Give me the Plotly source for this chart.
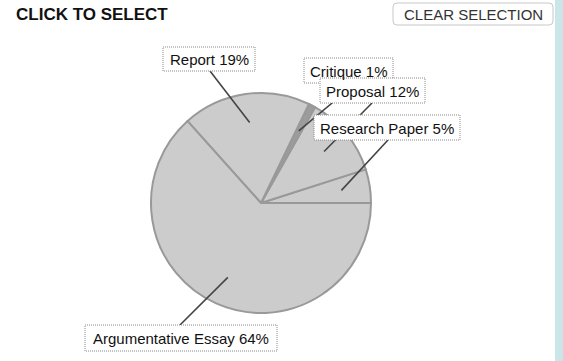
import math
import plotly.graph_objects as go

# Share of assignments by type (percent)
categories = ["Research Paper", "Proposal", "Critique", "Report", "Argumentative Essay"]
shares = [5, 12, 1, 19, 64]
slice_colors = ["#cccccc", "#cccccc", "#9c9c9c", "#cccccc", "#cccccc"]

W, H = 563, 361
CX, CY, R = 261, 203, 110          # pie centre and radius in page pixels
TIP_R = 0.74                       # where leader lines touch the slices

# Label boxes (x0, y0, x1, y1) and where each leader line meets its box
label_boxes = {
    "Research Paper": (314, 115, 460, 140),
    "Proposal": (320, 78, 425, 103),
    "Critique": (304, 58, 393, 83),
    "Report": (163, 47, 255, 71),
    "Argumentative Essay": (85, 325, 277, 351),
}
line_ends = {
    "Research Paper": (388, 140),
    "Proposal": (372, 103),
    "Critique": (356, 83),
    "Report": (210, 71),
    "Argumentative Essay": (180, 325),
}

total = sum(shares)
first_angle = shares[0] / total * 360

fig = go.Figure()

# Counterclockwise pie whose first slice starts at 3 o'clock
fig.add_trace(go.Pie(
    labels=categories,
    values=shares,
    sort=False,
    direction="counterclockwise",
    rotation=90 - first_angle,
    textinfo="none",
    hoverinfo="label+percent",
    marker=dict(colors=slice_colors, line=dict(color="#999999", width=2)),
    domain=dict(x=[(CX - R) / W, (CX + R) / W],
                y=[1 - (CY + R) / H, 1 - (CY - R) / H]),
    showlegend=False,
))

# Leader-line tips at the middle angle of each slice
cum = 0
tips = {}
for name, v in zip(categories, shares):
    mid = (cum + v / 2) / total * 2 * math.pi
    tips[name] = (CX + TIP_R * R * math.cos(mid), CY - TIP_R * R * math.sin(mid))
    cum += v

shapes = []
# side strip
shapes.append(dict(type="rect", xref="x", yref="y", x0=555, x1=564, y0=0, y1=H,
                   fillcolor="#c9e7e9", line=dict(width=0), layer="above"))
# leader lines
for name in categories:
    (x0, y0), (x1, y1) = tips[name], line_ends[name]
    shapes.append(dict(type="line", xref="x", yref="y", x0=x0, y0=y0, x1=x1, y1=y1,
                       line=dict(color="#444444", width=1.6), layer="above"))
# dotted label boxes
for name in ["Critique", "Proposal", "Research Paper", "Report", "Argumentative Essay"]:
    bx0, by0, bx1, by1 = label_boxes[name]
    shapes.append(dict(type="rect", xref="x", yref="y", x0=bx0, y0=by0, x1=bx1, y1=by1,
                       fillcolor="white", line=dict(color="#8a8a8a", width=1, dash="1px,1px"),
                       layer="above"))
# rounded button
bx0, by0, bx1, by1, r = 393, 3, 553, 25, 4
btn_path = (f"M{bx0 + r},{by0} L{bx1 - r},{by0} Q{bx1},{by0} {bx1},{by0 + r} "
            f"L{bx1},{by1 - r} Q{bx1},{by1} {bx1 - r},{by1} L{bx0 + r},{by1} "
            f"Q{bx0},{by1} {bx0},{by1 - r} L{bx0},{by0 + r} Q{bx0},{by0} {bx0 + r},{by0} Z")
shapes.append(dict(type="path", xref="x", yref="y", path=btn_path,
                   fillcolor="white", line=dict(color="#c8c8c8", width=1), layer="above"))

annotations = []
for name, v in zip(categories, shares):
    bx0, by0, bx1, by1 = label_boxes[name]
    annotations.append(dict(
        x=(bx0 + bx1) / 2, y=(by0 + by1) / 2 + 0.5, xref="x", yref="y",
        text=f"{name} {v}%", showarrow=False, xanchor="center", yanchor="middle",
        font=dict(family="Liberation Sans, Arial, sans-serif", size=15, color="#111111"),
    ))
annotations.append(dict(
    x=14, y=14, xref="x", yref="y", text="<b>CLICK TO SELECT</b>", showarrow=False,
    xanchor="left", yanchor="middle",
    font=dict(family="Liberation Sans, Arial, sans-serif", size=17, color="#111111"),
))
annotations.append(dict(
    x=(393 + 553) / 2, y=14.5, xref="x", yref="y", text="CLEAR SELECTION", showarrow=False,
    xanchor="center", yanchor="middle",
    font=dict(family="Liberation Sans, Arial, sans-serif", size=15, color="#333333"),
))

fig.update_layout(
    width=W, height=H,
    margin=dict(l=0, r=0, t=0, b=0),
    paper_bgcolor="white", plot_bgcolor="rgba(0,0,0,0)",
    xaxis=dict(range=[0, W], visible=False, domain=[0, 1], fixedrange=True),
    yaxis=dict(range=[H, 0], visible=False, domain=[0, 1], fixedrange=True),
    shapes=shapes,
    annotations=annotations,
    showlegend=False,
)

fig.write_html("out.html", config={"displayModeBar": False})
